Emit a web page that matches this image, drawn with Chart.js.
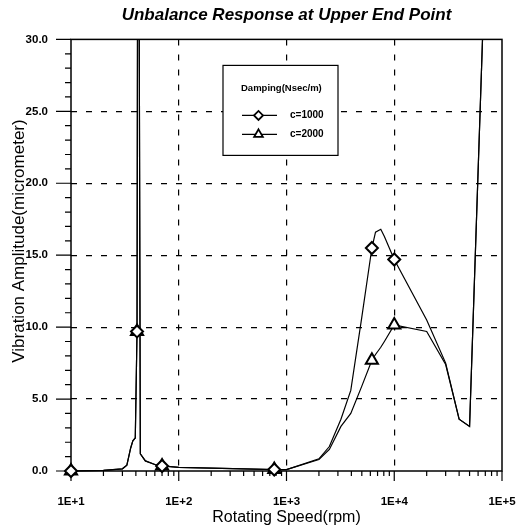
<!DOCTYPE html>
<html>
<head>
<meta charset="utf-8">
<script src="https://cdn.jsdelivr.net/npm/chart.js@4/dist/chart.umd.min.js"></script>
<style>
  html, body { margin: 0; padding: 0; background: #fff; }
</style>
</head>
<body>
<canvas id="responseChart" width="520" height="531"></canvas>
<script>
// rotating speed (rpm), shared by both damping cases
const speeds = [10, 20, 30, 33, 35.8, 37.5, 39.5, 41, 42, 44, 49, 60, 70, 100, 200, 400, 770, 1000,
  2000, 2500, 3200, 3950, 5000, 6200, 6700, 7500, 8100, 10000, 20000, 30000, 40000, 50000, 68000];
// vibration amplitude (micrometer) for each damping value
const ampC1000 = [0, 0.05, 0.15, 0.4, 1.6, 2.1, 2.3, 9.7, 60, 1.2, 0.7, 0.45, 0.35, 0.25, 0.2, 0.15, 0.1, 0.1,
  0.85, 1.7, 3.6, 5.6, 10.7, 15.5, 16.6, 16.8, 16.3, 14.7, 10.5, 7.5, 3.6, 3.1, 33];
const ampC2000 = [0, 0.05, 0.15, 0.4, 1.6, 2.1, 2.3, 9.7, 60, 1.2, 0.7, 0.45, 0.35, 0.25, 0.2, 0.15, 0.1, 0.1,
  0.8, 1.5, 3.1, 4.0, 5.9, 7.7, 8.1, 8.6, 9.0, 10.15, 9.7, 7.4, 3.6, 3.1, 33];
// speeds where the symbols are drawn
const markerSpeeds = [10, 41, 70, 770, 6200, 10000];
const seriesLabels = ['c=1000', 'c=2000'];
const xTickValues = [10, 100, 1000, 10000, 100000];

Chart.defaults.font.family = "'Liberation Sans', Arial, sans-serif";
Chart.defaults.color = '#000';

// frame around the plot plus the small outside tick marks
const axisFrame = {
  id: 'axisFrame',
  beforeDatasetsDraw(chart) {
    const { ctx, chartArea: a, scales: { x, y } } = chart;
    ctx.save();
    ctx.strokeStyle = '#000';
    ctx.lineWidth = 1.5;
    ctx.strokeRect(a.left, a.top, a.right - a.left, a.bottom - a.top);
    ctx.lineWidth = 1.2;
    ctx.beginPath();
    for (let v = 0; v <= 30; v++) {
      const py = y.getPixelForValue(v);
      const len = v % 5 === 0 ? 15 : 6;
      ctx.moveTo(a.left - len, py);
      ctx.lineTo(a.left, py);
    }
    for (let e = 1; e <= 5; e++) {
      for (let m = 1; m <= 9; m++) {
        const v = m * Math.pow(10, e);
        if (v > 100000) break;
        const px = x.getPixelForValue(v);
        const len = m === 1 ? 10 : 5;
        ctx.moveTo(px, a.bottom);
        ctx.lineTo(px, a.bottom + len);
      }
    }
    ctx.stroke();
    ctx.restore();
  }
};

// boxed legend sitting inside the plot
const legendBox = {
  id: 'legendBox',
  afterDatasetsDraw(chart) {
    const { ctx, chartArea: a } = chart;
    const bx = a.left + 152, by = a.top + 26, bw = 115, bh = 90;
    ctx.save();
    ctx.fillStyle = '#fff';
    ctx.fillRect(bx, by, bw, bh);
    ctx.strokeStyle = '#000';
    ctx.lineWidth = 1.2;
    ctx.strokeRect(bx, by, bw, bh);
    ctx.fillStyle = '#000';
    ctx.textBaseline = 'middle';
    ctx.font = "bold 9.5px 'Liberation Sans', Arial, sans-serif";
    ctx.fillText('Damping(Nsec/m)', bx + 18, by + 23);
    chart.data.datasets.forEach((ds, i) => {
      const ry = by + 50 + i * 19;
      ctx.strokeStyle = '#000';
      ctx.lineWidth = 1.2;
      ctx.beginPath();
      ctx.moveTo(bx + 19, ry);
      ctx.lineTo(bx + 54, ry);
      ctx.stroke();
      ctx.fillStyle = '#fff';
      ctx.lineWidth = 1.8;
      Chart.helpers.drawPoint(ctx, {
        pointStyle: ds.pointStyle, radius: i === 0 ? 4.5 : 5, rotation: 0, borderWidth: 1.8
      }, bx + 35.5, ry);
      ctx.fillStyle = '#000';
      ctx.font = "bold 10px 'Liberation Sans', Arial, sans-serif";
      ctx.fillText(ds.label, bx + 67, ry);
    });
    ctx.restore();
  }
};

const amps = [ampC1000, ampC2000];
const styles = ['rectRot', 'triangle'];
const radii = [6, 7];

new Chart(document.getElementById('responseChart'), {
  type: 'line',
  data: {
    datasets: seriesLabels.map((label, i) => ({
      label,
      data: speeds.map((s, j) => ({ x: s, y: amps[i][j] })),
      borderColor: '#000',
      borderWidth: 1.2,
      pointStyle: styles[i],
      pointRadius: ctx => markerSpeeds.includes(speeds[ctx.dataIndex]) ? radii[i] : 0,
      pointHoverRadius: 0,
      pointBorderWidth: 2,
      pointBackgroundColor: '#fff',
      pointBorderColor: '#000',
      tension: 0,
      clip: { left: 10, top: 0, right: 0, bottom: 10 }
    }))
  },
  options: {
    responsive: false,
    animation: false,
    layout: { padding: 0 },
    plugins: {
      legend: { display: false },
      tooltip: { enabled: false },
      title: {
        display: true,
        text: 'Unbalance Response at Upper End Point',
        fullSize: false,
        font: { size: 17, style: 'italic', weight: 'bold' },
        padding: { top: 5, bottom: 14 }
      }
    },
    scales: {
      x: {
        type: 'logarithmic',
        min: 10,
        max: 100000,
        afterBuildTicks: s => { s.ticks = xTickValues.map(v => ({ value: v })); },
        afterFit: s => { s.height = 60; s.paddingLeft = 0; s.paddingRight = 18; },
        ticks: {
          callback: v => '1E+' + Math.round(Math.log10(v)),
          autoSkip: false,
          maxRotation: 0,
          padding: 24,
          font: { size: 11.5, weight: 'bold' }
        },
        grid: {
          drawTicks: false,
          lineWidth: 1.2,
          color: ctx => (ctx.tick && ctx.tick.value > 10 && ctx.tick.value < 100000) ? '#000' : 'rgba(0,0,0,0)'
        },
        border: { display: false, dash: [6, 9] },
        title: {
          display: true,
          text: 'Rotating Speed(rpm)',
          font: { size: 16 },
          padding: { top: 0, bottom: 4 }
        }
      },
      y: {
        min: 0,
        max: 30,
        afterFit: s => { s.width = 71; },
        ticks: {
          stepSize: 5,
          callback: v => v.toFixed(1),
          padding: 23,
          font: { size: 11.5, weight: 'bold' }
        },
        grid: {
          drawTicks: false,
          lineWidth: 1.2,
          color: ctx => (ctx.tick && ctx.tick.value > 0 && ctx.tick.value < 30) ? '#000' : 'rgba(0,0,0,0)'
        },
        border: { display: false, dash: [6, 9] },
        title: {
          display: true,
          text: '      Vibration Amplitude(micrometer)',
          font: { size: 17 },
          padding: { top: 9, bottom: 0 }
        }
      }
    }
  },
  plugins: [axisFrame, legendBox]
});
</script>
</body>
</html>
